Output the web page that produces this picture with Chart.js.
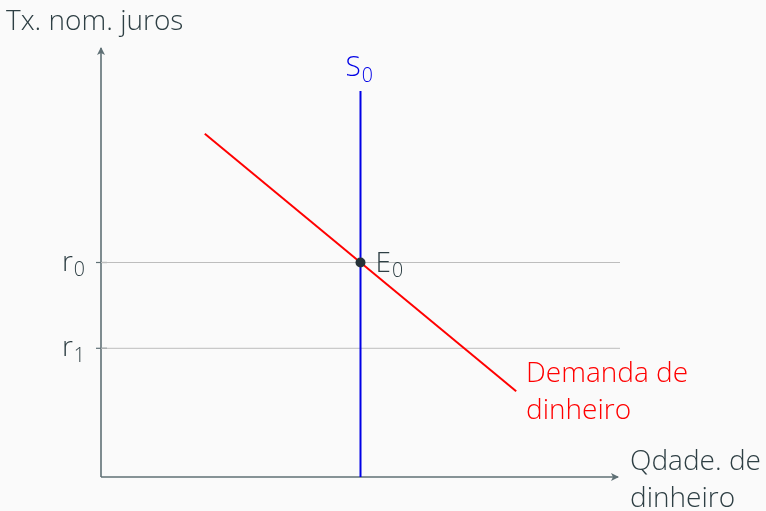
<!DOCTYPE html>
<html><head><meta charset="utf-8">
<script src="https://cdn.jsdelivr.net/npm/chart.js@4"></script>
<style>html,body{margin:0;padding:0;background:#fafafa;}#wrap{width:766px;height:511px;}</style>
</head><body><div id="wrap"><canvas id="c" width="766" height="511"></canvas></div>
<script>
const yAxisTitle = "Tx. nom. juros";
const xAxisTitle = ["Qdade. de", "dinheiro"];
const rateLevels = [50, 30];
const rateSubs = ["0", "1"];
const supplyQ = 50;
const supplyTop = 90;
const demandX = [20, 80];
const demandY = [80, 20];
const demandLabel = ["Demanda de", "dinheiro"];
const eqX = [50];
const eqY = [50];

const FONT = '"Open Sans", sans-serif';
const TXT = '#2e3f44';
const AX = '#5f7075';

function subText(ctx, base, sub, x, y, size, color, align) {
  ctx.save();
  ctx.fillStyle = color;
  ctx.textBaseline = 'alphabetic';
  ctx.font = `300 ${size}px ${FONT}`;
  const wb = ctx.measureText(base).width;
  ctx.font = `300 ${size*0.7}px ${FONT}`;
  const ws = ctx.measureText(sub).width;
  let x0 = x;
  if (align === 'right') x0 = x - wb - ws;
  ctx.textAlign = 'left';
  ctx.font = `300 ${size}px ${FONT}`;
  ctx.fillText(base, x0, y);
  ctx.font = `300 ${size*0.7}px ${FONT}`;
  ctx.fillText(sub, x0 + wb + 1, y + size*0.2);
  ctx.restore();
}

const decor = {
  id: 'decor',
  beforeDatasetsDraw(chart) {
    const {ctx} = chart;
    const xs = chart.scales.x, ys = chart.scales.y;
    const x0 = xs.getPixelForValue(0), y0 = ys.getPixelForValue(0);
    const xEnd = xs.getPixelForValue(100) - 2, yEnd = ys.getPixelForValue(100);
    ctx.save();
    ctx.strokeStyle = AX; ctx.fillStyle = AX; ctx.lineWidth = 1.6;
    ctx.beginPath(); ctx.moveTo(x0, y0); ctx.lineTo(xEnd, y0); ctx.stroke();
    ctx.beginPath(); ctx.moveTo(x0, y0); ctx.lineTo(x0, yEnd); ctx.stroke();
    ctx.beginPath(); ctx.moveTo(xEnd + 1, y0); ctx.lineTo(xEnd - 7, y0 - 4); ctx.lineTo(xEnd - 5, y0); ctx.lineTo(xEnd - 7, y0 + 4); ctx.closePath(); ctx.fill();
    ctx.beginPath(); ctx.moveTo(x0, yEnd - 1); ctx.lineTo(x0 - 4, yEnd + 7); ctx.lineTo(x0, yEnd + 5); ctx.lineTo(x0 + 4, yEnd + 7); ctx.closePath(); ctx.fill();
    ctx.lineWidth = 1.2;
    rateLevels.forEach(v => { const py = ys.getPixelForValue(v); ctx.beginPath(); ctx.moveTo(x0 - 5, py); ctx.lineTo(x0 + 6, py); ctx.stroke(); });
    ctx.restore();
  },
  afterDraw(chart) {
    const {ctx} = chart;
    const xs = chart.scales.x, ys = chart.scales.y;
    ctx.save();
    ctx.font = `300 28px ${FONT}`;
    ctx.fillStyle = TXT; ctx.textAlign = 'left'; ctx.textBaseline = 'alphabetic';
    ctx.fillText(yAxisTitle, 6, 30);
    ctx.fillText(xAxisTitle[0], 630, 470);
    ctx.fillText(xAxisTitle[1], 630, 507);
    ctx.fillStyle = '#ff0000';
    ctx.fillText(demandLabel[0], 526, 382);
    ctx.fillText(demandLabel[1], 526, 419);
    ctx.restore();
    rateLevels.forEach((v, i) => subText(ctx, 'r', rateSubs[i], 84, ys.getPixelForValue(v) + 8, 28, TXT, 'right'));
    subText(ctx, 'S', '0', xs.getPixelForValue(supplyQ) - 15, 76, 28, '#0000e6', 'left');
    subText(ctx, 'E', '0', xs.getPixelForValue(eqX[0]) + 15, ys.getPixelForValue(eqY[0]) + 9, 28, TXT, 'left');
  }
};

const pts = (xa, ya) => xa.map((x, i) => ({x, y: ya[i]}));

const datasets = [];
rateLevels.forEach(v => datasets.push({data: pts([0, 100], [v, v]), borderColor: '#bdbdbd', borderWidth: 1, showLine: true, pointRadius: 0, order: 4}));
datasets.push({data: pts([supplyQ, supplyQ], [0, supplyTop]), borderColor: '#0000e6', borderWidth: 2, showLine: true, pointRadius: 0, order: 2});
datasets.push({data: pts(demandX, demandY), borderColor: '#ff0000', borderWidth: 2, showLine: true, pointRadius: 0, order: 3});
datasets.push({data: pts(eqX, eqY), pointRadius: 5, pointBackgroundColor: '#263238', pointBorderColor: '#263238', pointBorderWidth: 0, showLine: false, order: 0});

new Chart(document.getElementById('c'), {
  type: 'scatter',
  data: {datasets},
  options: {
    responsive: false, animation: false,
    layout: {padding: {left: 101, right: 146, top: 48, bottom: 34}},
    plugins: {legend: {display: false}, tooltip: {enabled: false}},
    scales: {
      x: {type: 'linear', min: 0, max: 100, display: false},
      y: {type: 'linear', min: 0, max: 100, display: false}
    }
  },
  plugins: [decor]
});
</script></body></html>
